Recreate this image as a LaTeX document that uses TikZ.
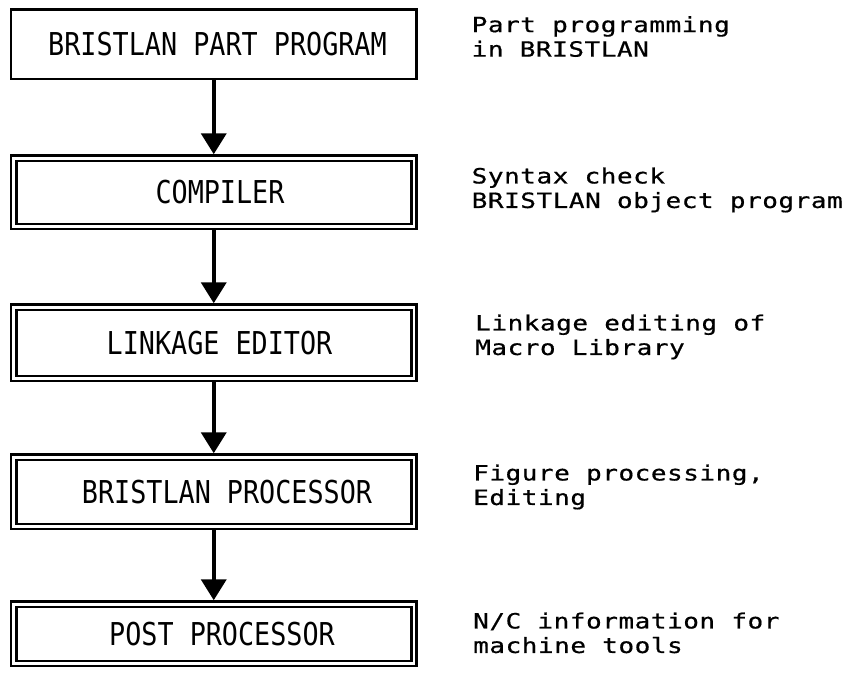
\documentclass[tikz,border=0pt]{standalone}
\usepackage{fontspec}
\newfontfamily\boxfont[FakeStretch=0.85]{DejaVu Sans Mono}
\newfontfamily\notefont[FakeStretch=1.24,LetterSpace=2.5,FakeBold=0.6]{DejaVu Sans Mono}
\usetikzlibrary{arrows.meta}
\begin{document}
\begin{tikzpicture}[x=1pt,y=-1pt,
  box/.style={draw, line width=2.5pt, minimum width=405.5pt, inner sep=0pt,
    font=\boxfont\fontsize{31.5}{36}\selectfont},
  innerline/.style={line width=2.5pt},
  note/.style={anchor=north west, align=left, inner sep=0pt,
    font=\notefont\fontsize{21}{24.5}\selectfont},
  arr/.style={line width=4pt, -{Triangle[width=25pt,length=21pt]}}]
\useasboundingbox (0,0) rectangle (852,673);
\node[box, minimum height=69.5pt] (b1) at (213.75,44.25) {\hspace*{7.5pt}BRISTLAN PART PROGRAM};
\node[box, minimum height=73.5pt] (b2) at (213.75,192.25) {\hspace*{12.5pt}COMPILER};
\node[box, minimum height=76.5pt] (b3) at (213.75,342.75) {\hspace*{11.5pt}LINKAGE EDITOR};
\node[box, minimum height=74.5pt] (b4) at (213.75,491.75) {\hspace*{26.5pt}BRISTLAN PROCESSOR};
\node[box, minimum height=64.5pt] (b5) at (213.75,633.75) {\hspace*{16.5pt}POST PROCESSOR};
\foreach \b in {b2,b3,b4,b5}
  \draw[innerline] ([shift={(6.5pt,6.5pt)}]\b.south west) rectangle ([shift={(-6.5pt,-6.5pt)}]\b.north east);
\draw[arr] (b1.south) -- (b2.north);
\draw[arr] (b2.south) -- (b3.north);
\draw[arr] (b3.south) -- (b4.north);
\draw[arr] (b4.south) -- (b5.north);
\node[note] (n1) at (471.5,16) {Part programming\\in BRISTLAN};
\node[note] (n2) at (471.5,167.3) {Syntax check\\BRISTLAN object program};
\node[note] (n3) at (475,314.3) {Linkage editing of\\Macro Library};
\node[note] (n4) at (473,464.3) {Figure processing,\\Editing};
\node[note] (n5) at (473,612.3) {N/C information for\\machine tools};
\end{tikzpicture}
\end{document}
